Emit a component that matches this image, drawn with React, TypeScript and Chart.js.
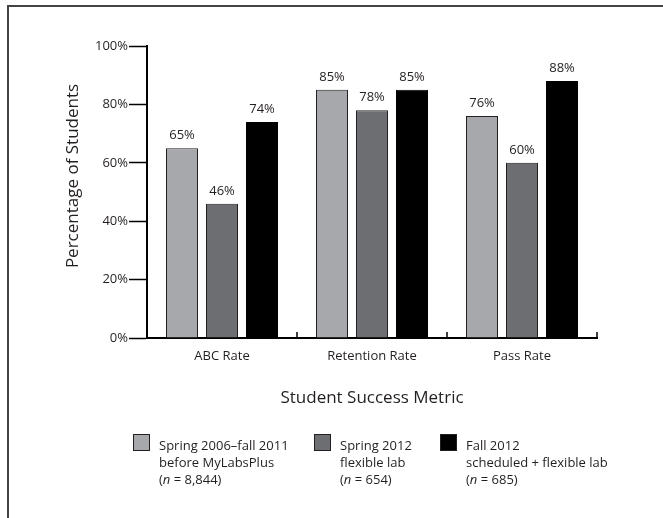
import React, { useEffect, useRef } from "react";
import { Chart, registerables } from "chart.js";

Chart.register(...registerables);

const categories = ["ABC Rate", "Retention Rate", "Pass Rate"];
const seriesLabels = ["Spring 2006\u2013fall 2011", "Spring 2012", "Fall 2012"];
const seriesSubLabels = ["before MyLabsPlus", "flexible lab", "scheduled + flexible lab"];
const sampleSizes = ["8,844", "654", "685"];
const beforeValues = [65, 85, 76];
const spring2012Values = [46, 78, 60];
const fall2012Values = [74, 85, 88];
const seriesColors = ["#a7a8ab", "#6d6e71", "#000000"];
const yTicks = [0, 20, 40, 60, 80, 100];
const yTitle = "Percentage of Students";
const xTitle = "Student Success Metric";

const FONT = "'Open Sans', 'DejaVu Sans', sans-serif";
const TEXT = "#231f20";

const labelsPlugin = {
  id: "barValueLabels",
  afterDatasetsDraw(chart: any) {
    const ctx = chart.ctx;
    ctx.save();
    ctx.font = `13px ${FONT}`;
    ctx.fillStyle = TEXT;
    ctx.textAlign = "center";
    ctx.textBaseline = "middle";
    chart.data.datasets.forEach((ds: any, di: number) => {
      const meta = chart.getDatasetMeta(di);
      meta.data.forEach((el: any, i: number) => {
        ctx.fillText(`${ds.data[i]}%`, el.x, el.y - 12.5);
      });
    });
    ctx.restore();
  },
};

const axisDecorPlugin = {
  id: "axisDecor",
  afterDraw(chart: any) {
    const ctx = chart.ctx;
    const xs = chart.scales.x;
    const area = chart.chartArea;
    const n = chart.data.labels.length;
    const step = n > 1 ? xs.getPixelForValue(1) - xs.getPixelForValue(0) : area.right - area.left;
    ctx.save();
    ctx.strokeStyle = "#000";
    ctx.lineWidth = 1.5;
    for (let i = 1; i <= n; i++) {
      const x = Math.round(xs.getPixelForValue(i - 1) + step / 2);
      ctx.beginPath();
      ctx.moveTo(x, area.bottom);
      ctx.lineTo(x, area.bottom - 6);
      ctx.stroke();
    }
    // y axis title
    ctx.fillStyle = TEXT;
    ctx.font = `17px ${FONT}`;
    ctx.textAlign = "center";
    ctx.textBaseline = "middle";
    ctx.translate(73, 176);
    ctx.rotate(-Math.PI / 2);
    ctx.fillText(yTitle, 0, 0);
    ctx.restore();

    // legend
    const boxX = [133, 314, 440];
    const boxY = 434;
    const box = 17;
    ctx.save();
    ctx.textBaseline = "middle";
    ctx.textAlign = "left";
    chart.data.datasets.forEach((ds: any, i: number) => {
      const bx = boxX[i];
      ctx.fillStyle = ds.backgroundColor;
      ctx.fillRect(bx, boxY, box, box);
      ctx.strokeStyle = "#231f20";
      ctx.lineWidth = 1;
      ctx.strokeRect(bx + 0.5, boxY + 0.5, box - 1, box - 1);
      const tx = bx + 26;
      ctx.fillStyle = TEXT;
      ctx.font = `13px ${FONT}`;
      ctx.fillText(seriesLabels[i], tx, 446);
      ctx.fillText(seriesSubLabels[i], tx, 463);
      let cx = tx;
      ctx.fillText("(", cx, 480);
      cx += ctx.measureText("(").width;
      ctx.font = `italic 13px ${FONT}`;
      ctx.fillText("n", cx, 480);
      cx += ctx.measureText("n").width;
      ctx.font = `13px ${FONT}`;
      ctx.fillText(` = ${sampleSizes[i]})`, cx, 480);
    });
    ctx.restore();
  },
};

export default function App() {
  const ref = useRef<HTMLCanvasElement>(null);
  useEffect(() => {
    if (!ref.current) return;
    const makeDs = (label: string, data: number[], i: number) => ({
      label,
      data,
      backgroundColor: seriesColors[i],
      borderColor: i === 2 ? "#000000" : "#231f20",
      borderWidth: 1,
      categoryPercentage: 0.8,
      barPercentage: 0.8,
    });
    const chart = new Chart(ref.current, {
      type: "bar",
      data: {
        labels: categories,
        datasets: [
          makeDs(seriesLabels[0], beforeValues, 0),
          makeDs(seriesLabels[1], spring2012Values, 1),
          makeDs(seriesLabels[2], fall2012Values, 2),
        ],
      },
      options: {
        responsive: false,
        animation: false,
        layout: { padding: { left: 0, top: 46, right: 66, bottom: 110 } },
        plugins: { legend: { display: false }, tooltip: { enabled: false }, title: { display: false } },
        scales: {
          x: {
            grid: { display: true, drawOnChartArea: false, drawTicks: false },
            border: { display: true, color: "#000", width: 2 },
            ticks: { font: { family: FONT, size: 13 }, color: TEXT, padding: 10 },
            title: {
              display: true,
              text: xTitle,
              font: { family: FONT, size: 17 },
              color: TEXT,
              padding: { top: 0, bottom: 0 },
            },
            afterFit: (s: any) => {
              s.height = 70;
            },
          },
          y: {
            min: 0,
            max: 100,
            afterBuildTicks: (s: any) => {
              s.ticks = yTicks.map((v) => ({ value: v }));
            },
            ticks: {
              font: { family: FONT, size: 13 },
              color: TEXT,
              padding: 1,
              callback: (v: any) => `${v}%`,
            },
            grid: { drawOnChartArea: false, drawTicks: true, tickLength: 18, color: "#000", tickWidth: 1.5 },
            border: { display: true, color: "#000", width: 2 },
            afterFit: (s: any) => {
              s.width = 147;
            },
          },
        },
      },
      plugins: [labelsPlugin, axisDecorPlugin],
    });
    return () => chart.destroy();
  }, []);
  return (
    <div style={{ position: "fixed", left: 0, top: 0, width: 663, height: 518, background: "#fff", overflow: "hidden" }}>
      <canvas ref={ref} width={663} height={518} style={{ position: "absolute", left: 0, top: 0 }} />
      <div
        style={{
          position: "absolute",
          left: 7,
          top: 5,
          width: 700,
          height: 600,
          borderLeft: "2px solid #444",
          borderTop: "2px solid #444",
          pointerEvents: "none",
        }}
      />
    </div>
  );
}
